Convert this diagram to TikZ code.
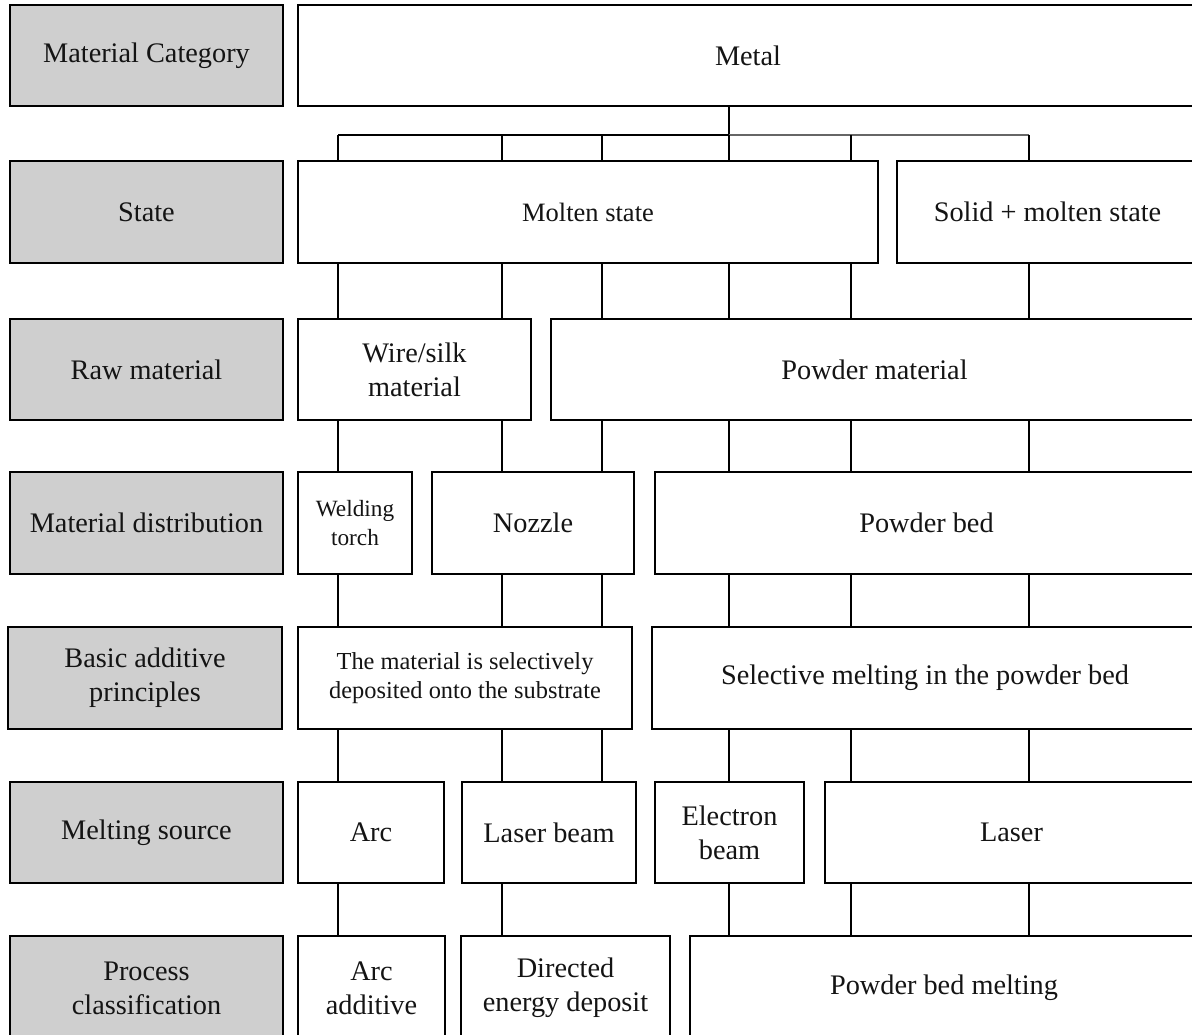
\documentclass[tikz,border=0pt]{standalone}
\usepackage{fontspec}
\setmainfont{Liberation Serif}
\newcommand{\fsMain}{\fontsize{28.3}{34}\selectfont}
\newcommand{\fsSmall}{\fontsize{24.4}{28.5}\selectfont}
\newcommand{\fsTorch}{\fontsize{23.3}{29}\selectfont}
\newcommand{\fsMolten}{\fontsize{26.5}{32}\selectfont}
\definecolor{labelgray}{HTML}{CFCFCF}
\definecolor{txt}{HTML}{141414}
\newcommand{\rbox}[7]{\node[#1, minimum width={#4-#3}, minimum height={#6-#5}] (#2) at ({(#3+#4)/2},{(#5+#6)/2}) {#7};}
\tikzset{
  box/.style={draw=black, line width=2.9pt, fill=white, inner sep=2pt, align=center, text=txt, font=\fsMain},
  lab/.style={box, fill=labelgray},
  conn/.style={draw=black, line width=2.2pt},
  busg/.style={draw=black!60, line width=1.6pt}
}
\begin{document}
\begin{tikzpicture}[x=1pt, y=-1pt]
\useasboundingbox (0,0) rectangle (1192,1034);
\clip (0,0) rectangle (1192,1034);
\fill[white] (0,0) rectangle (1192,1034);
% column coordinates
\coordinate (c1) at (338,0);
\coordinate (c2) at (502,0);
\coordinate (c3) at (602,0);
\coordinate (c4) at (729,0);
\coordinate (c5) at (851,0);
\coordinate (c6) at (1029,0);
\coordinate (bus) at (0,135);
% label column
\rbox{lab}{l1}{10}{283}{5}{106}{Material Category}
\rbox{lab}{l2}{10}{283}{161}{263}{State}
\rbox{lab}{l3}{10}{283}{319}{420}{Raw material}
\rbox{lab}{l4}{10}{283}{472}{574}{Material distribution}
\rbox{lab}{l5}{8}{282}{627}{729}{Basic additive\\principles}
\rbox{lab}{l6}{10}{283}{782}{883}{Melting source}
\rbox{lab}{l7}{10}{283}{936}{1040}{Process\\classification}
% content boxes
\rbox{box}{metal}{298}{1198}{5}{106}{Metal}
\rbox{box, font=\fsMolten}{molten}{298}{878}{161}{263}{Molten state}
\rbox{box}{solid}{897}{1198}{161}{263}{Solid + molten state}
\rbox{box}{wire}{298}{531}{319}{420}{Wire/silk\\material}
\rbox{box}{powder}{551}{1198}{319}{420}{Powder material}
\rbox{box, font=\fsTorch}{torch}{298}{412}{472}{574}{Welding\\torch}
\rbox{box}{nozzle}{432}{634}{472}{574}{Nozzle}
\rbox{box}{bed}{655}{1198}{472}{574}{Powder bed}
\rbox{box, font=\fsSmall}{deposit}{298}{632}{627}{729}{The material is selectively\\deposited onto the substrate}
\rbox{box}{selective}{652}{1198}{627}{729}{Selective melting in the powder bed}
\rbox{box}{arc}{298}{444}{782}{883}{Arc}
\rbox{box}{laserbeam}{462}{636}{782}{883}{Laser beam}
\rbox{box}{electron}{655}{804}{782}{883}{Electron\\beam}
\rbox{box}{laser}{825}{1198}{782}{883}{Laser}
\rbox{box}{arcadd}{298}{445}{936}{1040}{Arc\\additive}
\rbox{box}{ded}{461}{670}{936}{1040}{Directed\\energy deposit}
\rbox{box}{pbm}{690}{1198}{936}{1040}{Powder bed melting}
% bus from Metal
\draw[conn] (metal.south -| c4) -- (bus -| c4);
\draw[conn] (bus -| c1) -- (bus -| c4);
\draw[busg] (bus -| c4) -- (bus -| c6);
\foreach \c in {c1,c2,c3,c4,c5} \draw[conn] (bus -| \c) -- (molten.north -| \c);
\draw[conn] (bus -| c6) -- (solid.north -| c6);
% state -> raw material
\foreach \c in {c1,c2} \draw[conn] (molten.south -| \c) -- (wire.north -| \c);
\foreach \c in {c3,c4,c5} \draw[conn] (molten.south -| \c) -- (powder.north -| \c);
\draw[conn] (solid.south -| c6) -- (powder.north -| c6);
% raw material -> distribution
\draw[conn] (wire.south -| c1) -- (torch.north -| c1);
\draw[conn] (wire.south -| c2) -- (nozzle.north -| c2);
\draw[conn] (powder.south -| c3) -- (nozzle.north -| c3);
\foreach \c in {c4,c5,c6} \draw[conn] (powder.south -| \c) -- (bed.north -| \c);
% distribution -> principles
\draw[conn] (torch.south -| c1) -- (deposit.north -| c1);
\foreach \c in {c2,c3} \draw[conn] (nozzle.south -| \c) -- (deposit.north -| \c);
\foreach \c in {c4,c5,c6} \draw[conn] (bed.south -| \c) -- (selective.north -| \c);
% principles -> melting source
\draw[conn] (deposit.south -| c1) -- (arc.north -| c1);
\foreach \c in {c2,c3} \draw[conn] (deposit.south -| \c) -- (laserbeam.north -| \c);
\draw[conn] (selective.south -| c4) -- (electron.north -| c4);
\foreach \c in {c5,c6} \draw[conn] (selective.south -| \c) -- (laser.north -| \c);
% melting source -> process classification
\draw[conn] (arc.south -| c1) -- (arcadd.north -| c1);
\draw[conn] (laserbeam.south -| c2) -- (ded.north -| c2);
\draw[conn] (electron.south -| c4) -- (pbm.north -| c4);
\foreach \c in {c5,c6} \draw[conn] (laser.south -| \c) -- (pbm.north -| \c);
\end{tikzpicture}
\end{document}
